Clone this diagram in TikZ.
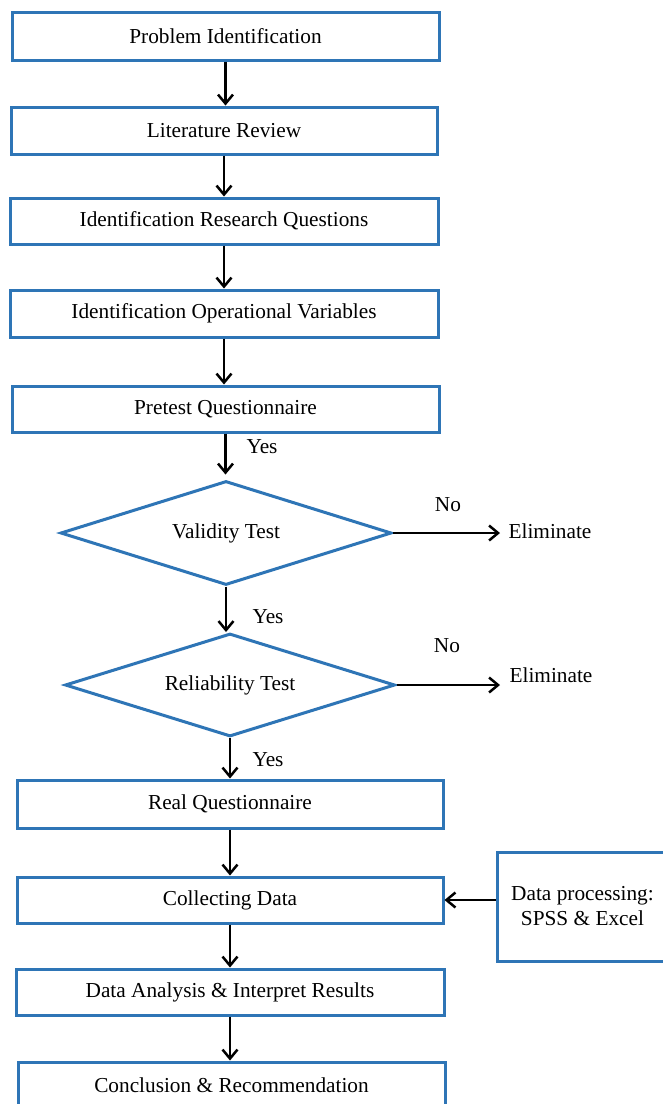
\documentclass[tikz,border=0pt]{standalone}
\usepackage{fontspec}
\setmainfont{Liberation Serif}
\usetikzlibrary{shapes.geometric,arrows.meta}
\definecolor{boxblue}{RGB}{46,117,182}
\begin{document}
\begin{tikzpicture}[x=1pt,y=-1pt,
  txt/.style={font=\fontsize{21.3}{25}\selectfont},
  box/.style={txt,draw=boxblue,line width=3pt,rectangle,minimum width=427pt,minimum height=47pt,inner sep=0pt},
  dia/.style={txt,draw=boxblue,line width=3pt,diamond,aspect=3.2,minimum width=331pt,minimum height=104pt,inner sep=0pt},
  arr/.style={draw=black,line width=2.5pt,-{Straight Barb[length=9pt,width=15pt]}},
  lbl/.style={txt,inner sep=0pt}
]
\useasboundingbox (0,0) rectangle (663,1104);
\fill[white] (0,0) rectangle (663,1104);

\node[box,minimum height=48pt] (b1) at (225.5,36) {Problem Identification};
\node[box,minimum width=426pt] (b2) at (224,130.5) {Literature Review};
\node[box,minimum width=428pt,minimum height=46pt] (b3) at (224,221) {Identification Research Questions};
\node[box,minimum width=428pt] (b4) at (224,313.5) {Identification Operational Variables};
\node[box,minimum height=46pt] (b5) at (225.5,409) {Pretest Questionnaire};
\node[dia] (v) at (226,533) {Validity Test};
\node[dia,minimum width=330pt,minimum height=103pt] (r) at (230,685) {Reliability Test};
\node[box,minimum width=426pt,minimum height=48pt] (b6) at (230,804) {Real Questionnaire};
\node[box,minimum width=426pt,minimum height=46pt] (b7) at (230,900) {Collecting Data};
\node[box,minimum width=428pt,minimum height=46pt] (b8) at (230,992) {Data Analysis \& Interpret Results};
\node[box,minimum width=427pt,minimum height=46pt] (b9) at (231.5,1085) {Conclusion \& Recommendation};
\node[box,minimum width=171pt,minimum height=109pt,align=center] (dp) at (582.5,906.5) {Data processing:\\SPSS \& Excel};

\coordinate (e1) at (500,533);
\coordinate (e2) at (500,685);
\node[lbl] (el1) at (550,531) {Eliminate};
\node[lbl] (el2) at (551,675) {Eliminate};
\node[lbl] (no1) at (448,505) {No};
\node[lbl] (no2) at (447,646) {No};
\node[lbl] (y1) at (262,447) {Yes};
\node[lbl] (y2) at (268,617) {Yes};
\node[lbl] (y3) at (268,760) {Yes};

\draw[arr] (b1.south) -- (b1.south |- b2.north);
\draw[arr] (b2.south) -- (b2.south |- b3.north);
\draw[arr] (b3.south) -- (b3.south |- b4.north);
\draw[arr] (b4.south) -- (b4.south |- b5.north);
\draw[arr] (b5.south) -- ([yshift=5pt]b5.south |- v.north);
\draw[arr] (v.south) -- (v.south |- r.north);
\draw[arr] (r.south) -- (r.south |- b6.north);
\draw[arr] (b6.south) -- (b6.south |- b7.north);
\draw[arr] (b7.south) -- (b7.south |- b8.north);
\draw[arr] (b8.south) -- (b8.south |- b9.north);
\draw[arr] (v.east) -- (e1);
\draw[arr] (r.east) -- (e2);
\draw[arr] (dp.west |- b7.east) -- (b7.east);
\end{tikzpicture}
\end{document}
